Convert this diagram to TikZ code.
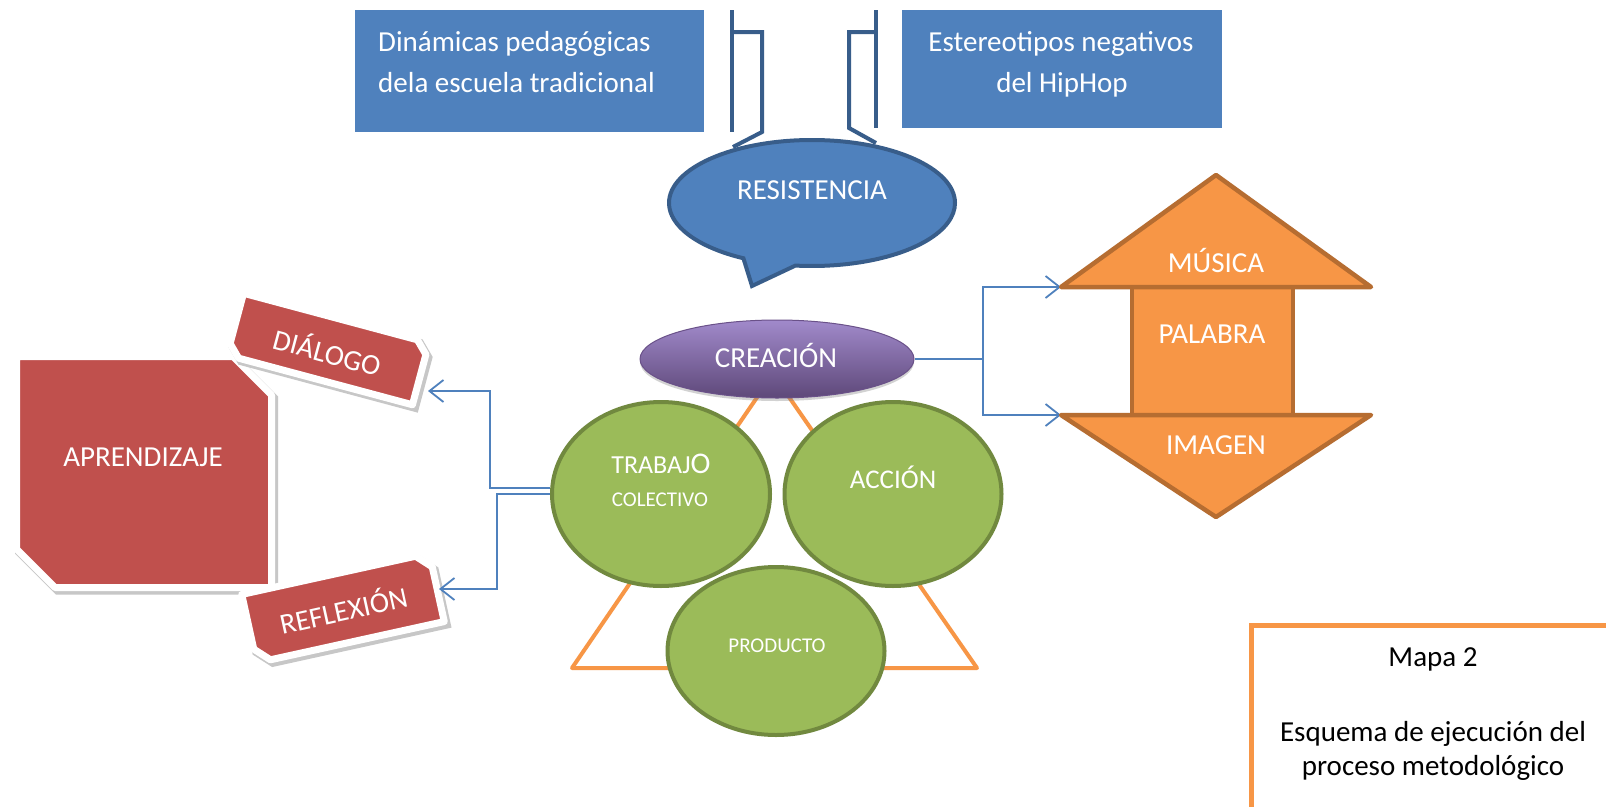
\documentclass[tikz,border=0pt]{standalone}
\usepackage{fontspec}
\setmainfont{Carlito}
\usetikzlibrary{shapes.geometric,shapes.callouts,shadows,arrows.meta}
\definecolor{boxblue}{HTML}{4F81BD}
\definecolor{darkblue}{HTML}{385D8A}
\definecolor{redfill}{HTML}{C0504D}
\definecolor{greenfill}{HTML}{9BBB59}
\definecolor{greendraw}{HTML}{71893F}
\definecolor{orangefill}{HTML}{F79646}
\definecolor{orangedraw}{HTML}{B66D31}
\definecolor{purpletop}{HTML}{A18ACB}
\definecolor{purplemid}{HTML}{7E62A8}
\definecolor{purplebot}{HTML}{5E4879}
\definecolor{purpledraw}{HTML}{6A5189}
\begin{document}
\begin{tikzpicture}[x=1pt,y=-1pt,
  lbl/.style={text=white,inner sep=0,font=\fontsize{29}{35}\selectfont,anchor=base},
  lblmid/.style={lbl,font=\fontsize{27}{32}\selectfont},
  lblsmall/.style={lbl,font=\fontsize{21}{26}\selectfont},
  blacklbl/.style={lbl,text=black},
  bluebox/.style={fill=boxblue,draw=none,inner sep=0,anchor=north west},
  bracket/.style={draw=darkblue,line width=4pt},
  greenell/.style={ellipse,fill=greenfill,draw=greendraw,line width=4pt,inner sep=0},
  tagshape/.style={fill=redfill,draw=white,line width=7pt,line join=round,
    preaction={fill=black!22,draw=black!22,line width=8pt,transform canvas={shift={(2.5pt,-3pt)}}}},
  orangeshape/.style={fill=orangefill,draw=orangedraw,line width=4.5pt,line join=round},
  conn/.style={draw=boxblue,line width=1.8pt},
  arrowtip/.style={-{Straight Barb[length=14pt,width=22pt,line width=1.8pt]}}
]
\useasboundingbox (0,0) rectangle (1606,806);
\fill[white] (0,0) rectangle (1606,806);

% top blue boxes
\node[bluebox,minimum width=349,minimum height=122] (bA) at (355,10) {};
\node[bluebox,minimum width=320,minimum height=118] (bB) at (902,10) {};
\node[lbl,anchor=base west] (tA1) at (378,51) {Dinámicas pedagógicas};
\node[lbl,anchor=base west] (tA2) at (378,92) {dela escuela tradicional};
\node[lbl] (tB1) at (1061,51) {Estereotipos negativos};
\node[lbl] (tB2) at (1062,92) {del HipHop};

% brackets
\draw[bracket] (732,10) -- (732,132);
\draw[bracket,line join=miter] (732,32) -- (762,32) -- (762,132) -- (733,147);
\draw[bracket] (876,10) -- (876,128);
\draw[bracket,line join=miter] (876,32) -- (849,32) -- (849,128) -- (876,143);

% RESISTENCIA
\node[ellipse callout,fill=boxblue,draw=darkblue,line width=4pt,minimum width=286,minimum height=126,
  inner sep=0,callout absolute pointer={(752,286)},callout pointer arc=22] (res) at (812,203) {};
\node[lbl] (resT) at (812,199) {RESISTENCIA};

% orange triangle
\draw[draw=orangefill,line width=4pt,line join=round] (773,374) -- (977,668) -- (572,668) -- cycle;

% green ellipses
\node[greenell,minimum width=218,minimum height=184] (trab) at (661,494) {};
\node[greenell,minimum width=217,minimum height=184] (acc) at (893,494) {};
\node[greenell,minimum width=217,minimum height=168] (prod) at (776,651) {};
\node[lbl,font=\fontsize{26}{31}\selectfont] (trabT) at (661,473) {TRABAJ{\fontsize{30}{36}\selectfont O}};
\node[lblsmall] (colT) at (660,506) {COLECTIVO};
\node[lblmid] (accT) at (893,488) {ACCIÓN};
\node[lblsmall] (prodT) at (777,652) {PRODUCTO};

% CREACION
\node[ellipse,minimum width=274,minimum height=78,inner sep=0,draw=purpledraw,line width=1pt,
  top color=purpletop,middle color=purplemid,bottom color=purplebot,
  drop shadow={shadow xshift=0pt,shadow yshift=-3pt,opacity=.35}] (crea) at (777,359) {};
\node[lbl] (creaT) at (776,367) {CREACIÓN};

% connectors to the double arrow
\coordinate (split) at (983,359);
\coordinate (musL) at (1061,287);
\coordinate (imgL) at (1061,415);
\draw[conn] (crea.east) -- (split);
\draw[conn,arrowtip] (split) |- (musL);
\draw[conn,arrowtip] (split) |- (imgL);

% orange double arrow
\filldraw[orangeshape] (1132,287) rectangle (1293,415);
\filldraw[orangeshape] (1216,175) -- (1371,287) -- (1061,287) -- cycle;
\filldraw[orangeshape] (1061,415) -- (1371,415) -- (1216,517) -- cycle;
\node[lbl] (musT) at (1216,272) {MÚSICA};
\node[lbl] (palT) at (1212,343) {PALABRA};
\node[lbl] (imgT) at (1216,454) {IMAGEN};

% APRENDIZAJE
\path[tagshape] (16.5,356.5) -- (233,356.5) -- (271.5,395) -- (271.5,587.5) -- (55,587.5) -- (16.5,549) -- cycle;
\node[lbl] (aprT) at (143,466) {APRENDIZAJE};

% DIALOGO
\begin{scope}[shift={(328,349)},rotate=-15]
  \path[tagshape] (-96,-32) -- (84,-32) -- (96,-20) -- (96,32) -- (-84,32) -- (-96,20) -- cycle;
  \node[lbl,rotate=-15] (dia) at (0,14) {DIÁLOGO};
\end{scope}

% REFLEXION
\begin{scope}[shift={(343,608)},rotate=12.4]
  \path[tagshape] (-96,-35) -- (82,-35) -- (96,-21) -- (96,35) -- (-82,35) -- (-96,21) -- cycle;
  \node[lbl,rotate=12.4] (ref) at (0,13) {REFLEXIÓN};
\end{scope}

% left connectors
\coordinate (diaTip) at (428,391);
\coordinate (refTip) at (439,589);
\draw[conn,arrowtip] ([yshift=6pt]trab.west) -- ++(-60,0) |- (diaTip);
\draw[conn,arrowtip] (trab.west) -- ++(-53,0) |- (refTip);

% Mapa 2 frame
\draw[draw=orangefill,line width=5pt] (1612,625) -- (1251,625) -- (1251,812);
\node[blacklbl] (m1) at (1433,666) {Mapa 2};
\node[blacklbl] (m2) at (1433,741) {Esquema de ejecución del};
\node[blacklbl] (m3) at (1433,775) {proceso metodológico};
\end{tikzpicture}
\end{document}
